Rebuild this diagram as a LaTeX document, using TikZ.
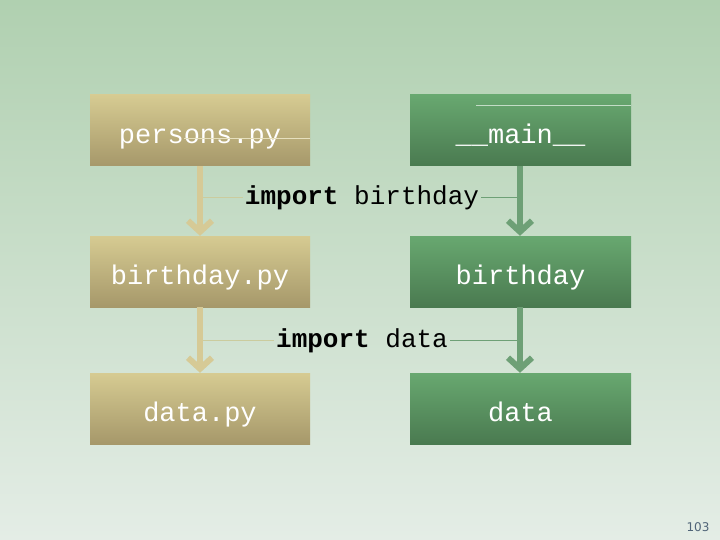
\documentclass[tikz,border=0pt]{standalone}
\usepackage{fontspec}
\setmonofont{Liberation Mono}
\setsansfont{DejaVu Sans}
\usetikzlibrary{arrows.meta}
\definecolor{bgtop}{RGB}{176,208,176}
\definecolor{bgbot}{RGB}{228,237,230}
\definecolor{tantop}{RGB}{214,203,146}
\definecolor{tanbot}{RGB}{166,152,106}
\definecolor{grtop}{RGB}{104,168,112}
\definecolor{grbot}{RGB}{74,122,80}
\definecolor{tanline}{RGB}{214,202,150}
\definecolor{grline}{RGB}{110,160,118}
\definecolor{pagenum}{RGB}{80,100,120}
\tikzset{
  boxtext/.style={text=white,font=\fontsize{27}{27}\selectfont\ttfamily,
    text height=26pt,text depth=0pt},
  tanbox/.style={boxtext,minimum width=220pt,minimum height=71pt,inner sep=0pt,
    top color=tantop,bottom color=tanbot,draw=none},
  grbox/.style={boxtext,minimum width=221pt,minimum height=71pt,inner sep=0pt,
    top color=grtop,bottom color=grbot,draw=none},
  tanarrow/.style={draw=tanline,line width=6pt,-{Straight Barb[length=11pt,width=24pt]}},
  grarrow/.style={draw=grline,line width=6pt,-{Straight Barb[length=11pt,width=24pt]}},
  lbl/.style={font=\fontsize{26}{26}\selectfont\ttfamily,text=black,inner sep=2pt},
  thinline/.style={line width=0.8pt}
}
\begin{document}
\begin{tikzpicture}[x=1pt,y=-1pt]
\useasboundingbox (0,0) rectangle (720,540);
\shade[top color=bgtop,bottom color=bgbot] (0,0) rectangle (720,540);
\node[tanbox] (persons) at (200,130.5) {persons.py};
\node[grbox] (main) at (520.5,130.5) {\_\_main\_\_};
\node[tanbox] (bdpy) at (200,271.5) {birthday.py};
\node[grbox] (bd) at (520.5,271.5) {birthday};
\node[tanbox] (datapy) at (200,408.5) {data.py};
\node[grbox] (data) at (520.5,408.5) {data};
\draw[tanarrow] (persons.south) -- (bdpy.north);
\draw[grarrow] ([xshift=-0.5pt]main.south) -- ([xshift=-0.5pt]bd.north);
\draw[tanarrow] (bdpy.south) -- (datapy.north);
\draw[grarrow] ([xshift=-0.5pt]bd.south) -- ([xshift=-0.5pt]data.north);
\node[lbl] (imp1) at (362,198) {\textbf{import} birthday};
\node[lbl] (imp2) at (362,341) {\textbf{import} data};
\coordinate (l1) at (203,197);
\coordinate (r1) at (517,197);
\coordinate (l2) at (203,340);
\coordinate (r2) at (517,340);
\draw[thinline,draw=tanline!70!bgtop] (l1) -- (l1 -| imp1.west);
\draw[thinline,draw=grline] (r1 -| imp1.east) -- (r1);
\draw[thinline,draw=tanline!70!bgtop] (l2) -- (l2 -| imp2.west);
\draw[thinline,draw=grline] (r2 -| imp2.east) -- (r2);
\draw[thinline,draw=tantop!60!white] (184,138) -- (persons.east |- 0,138);
\draw[thinline,draw=grtop!40!white] (476,105) -- (main.east |- 0,105);
\node[font=\sffamily\fontsize{12}{12}\selectfont,text=pagenum,anchor=east] (pg) at (713,527) {103};
\end{tikzpicture}
\end{document}
